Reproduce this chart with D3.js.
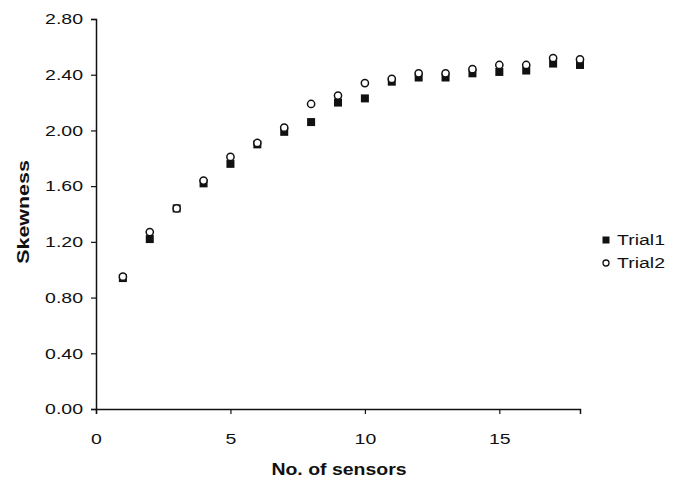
<!DOCTYPE html>
<html lang="en">
<head>
  <meta charset="utf-8">
  <title>Skewness vs no. of sensors</title>
  <script src="https://d3js.org/d3.v7.min.js"></script>
  <style>
    body { margin: 0; background: #fff; }
    text { font-family: "Liberation Sans", Arial, sans-serif; fill: #111; }
  </style>
</head>
<body>
<script>
// data
var sensors = [1, 2, 3, 4, 5, 6, 7, 8, 9, 10, 11, 12, 13, 14, 15, 16, 17, 18];
var trial1 = [0.94, 1.22, 1.44, 1.62, 1.76, 1.90, 1.99, 2.06, 2.20, 2.23, 2.35, 2.38, 2.38, 2.41, 2.42, 2.43, 2.48, 2.47];
var trial2 = [0.95, 1.27, 1.44, 1.64, 1.81, 1.91, 2.02, 2.19, 2.25, 2.34, 2.37, 2.41, 2.41, 2.44, 2.47, 2.47, 2.52, 2.51];
var xTicks = [0, 5, 10, 15];
var yTicks = [0, 0.4, 0.8, 1.2, 1.6, 2.0, 2.4, 2.8];
var seriesNames = ["Trial1", "Trial2"];

var w = 675, h = 480;
var plotLeft = 96, plotRight = 580, plotTop = 19, plotBottom = 409;
var ink = "#111";
var stretch = 1.3; // glyphs in the picture look wider than Arial

var x = d3.scaleLinear().domain([0, 18]).range([plotLeft, plotRight]);
var y = d3.scaleLinear().domain([0, 2.8]).range([plotBottom, plotTop]);

var svg = d3.select("body").append("svg")
  .attr("width", w)
  .attr("height", h);

// axes
var yAxis = svg.append("g")
  .attr("transform", "translate(" + plotLeft + ",0)")
  .call(d3.axisLeft(y).tickValues(yTicks).tickSize(5).tickFormat(d3.format(".2f")));
var xAxis = svg.append("g")
  .attr("transform", "translate(0," + plotBottom + ")")
  .call(d3.axisBottom(x).tickValues(xTicks).tickSize(5).tickFormat(d3.format("d")));

[yAxis, xAxis].forEach(function(g) {
  g.select(".domain").attr("stroke", ink).attr("stroke-width", 1.5);
  g.selectAll(".tick line").attr("stroke", ink).attr("stroke-width", 1.2);
  g.selectAll(".tick text")
    .attr("fill", ink)
    .style("font-size", "15px")
    .style("font-family", "'Liberation Sans', Arial, sans-serif");
});
// widen tick labels around their anchor
yAxis.selectAll(".tick text")
  .attr("x", 0)
  .attr("transform", "translate(-13,0) scale(" + stretch + ",1)");
xAxis.selectAll(".tick text")
  .attr("y", 0)
  .attr("dy", "0.71em")
  .attr("transform", "translate(0,24) scale(" + stretch + ",1)");

// axis titles
svg.append("text")
  .attr("transform", "translate(339,475) scale(1.18,1)")
  .attr("text-anchor", "middle")
  .style("font-size", "16.5px")
  .style("font-weight", "bold")
  .text("No. of sensors");

svg.append("text")
  .attr("transform", "translate(29,212) rotate(-90) scale(1.3,1)")
  .attr("text-anchor", "middle")
  .style("font-size", "16.5px")
  .style("font-weight", "bold")
  .text("Skewness");

// Trial1: filled squares
var sq = 8;
svg.append("g").selectAll("rect")
  .data(sensors)
  .enter().append("rect")
  .attr("x", function(d) { return x(d) - sq / 2; })
  .attr("y", function(d, i) { return y(trial1[i]) - sq / 2; })
  .attr("width", sq)
  .attr("height", sq)
  .attr("fill", ink);

// Trial2: open circles, drawn on top
svg.append("g").selectAll("circle")
  .data(sensors)
  .enter().append("circle")
  .attr("cx", function(d) { return x(d); })
  .attr("cy", function(d, i) { return y(trial2[i]); })
  .attr("r", 3.6)
  .attr("fill", "#fff")
  .attr("stroke", ink)
  .attr("stroke-width", 1.5);

// legend
var legend = svg.append("g").attr("transform", "translate(606,240)");
legend.append("rect").attr("x", -3.5).attr("y", -3.5).attr("width", 7).attr("height", 7).attr("fill", ink);
legend.append("circle").attr("cx", 0).attr("cy", 23).attr("r", 3).attr("fill", "#fff").attr("stroke", ink).attr("stroke-width", 1.3);
legend.selectAll("text")
  .data(seriesNames)
  .enter().append("text")
  .attr("transform", function(d, i) { return "translate(11," + (i * 23) + ") scale(" + stretch + ",1)"; })
  .attr("dy", "0.36em")
  .style("font-size", "15px")
  .text(function(d) { return d; });
</script>
</body>
</html>
